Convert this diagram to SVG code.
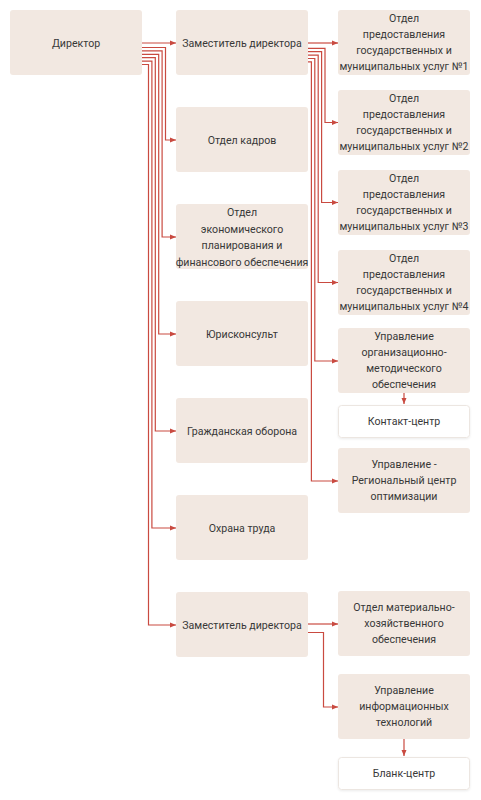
<svg xmlns="http://www.w3.org/2000/svg" width="481" height="800" viewBox="0 0 481 800">
<style>
.box{fill:#f2e8e1;}
.wbox{fill:#ffffff;stroke:#ece6e1;stroke-width:1;}
.t{font-family:Roboto,"Noto Sans","Liberation Sans",sans-serif;font-size:10.6px;fill:#383838;text-anchor:middle;dominant-baseline:central;}
.c{fill:none;stroke:#c94a40;stroke-width:1.2;marker-end:url(#ah);}
</style>
<defs>
<marker id="ah" markerUnits="userSpaceOnUse" markerWidth="7" markerHeight="6" refX="6" refY="3" orient="auto">
<path d="M0,0.5 L6,3 L0,5.5 z" fill="#c94a40"/>
</marker>
<filter id="sh" x="-10%" y="-20%" width="120%" height="150%">
<feDropShadow dx="0" dy="1" stdDeviation="1" flood-color="#000" flood-opacity="0.08"/>
</filter>
</defs>
<rect width="481" height="800" fill="#ffffff"/>

<g id="connectors">
<path class="c" d="M142,43 H176"/>
<path class="c" d="M142,47.5 H165.5 V140 H176"/>
<path class="c" d="M142,50.9 H162.1 V237 H176"/>
<path class="c" d="M142,54.3 H158.7 V334 H176"/>
<path class="c" d="M142,57.7 H155.3 V431 H176"/>
<path class="c" d="M142,61.1 H151.9 V528 H176"/>
<path class="c" d="M142,64.5 H148.5 V625 H176"/>

<path class="c" d="M308,43 H338"/>
<path class="c" d="M308,48.3 H325 V122.5 H338"/>
<path class="c" d="M308,51.7 H321.6 V202.5 H338"/>
<path class="c" d="M308,55.1 H318.2 V282.5 H338"/>
<path class="c" d="M308,58.5 H314.8 V361 H338"/>
<path class="c" d="M308,61.9 H311.4 V481 H338"/>

<path class="c" d="M404,393 V404"/>

<path class="c" d="M308,624 H338"/>
<path class="c" d="M308,632.5 H323.5 V707 H338"/>
<path class="c" d="M404,739 V756"/>
</g>

<g id="director"><rect class="box" x="10" y="10" width="132" height="65" rx="3"/><text class="t" x="76" y="43">Директор</text></g>

<g id="deputy1"><rect class="box" x="176" y="10" width="132" height="65" rx="3"/><text class="t" x="242" y="43">Заместитель директора</text></g>
<g id="hr"><rect class="box" x="176" y="107" width="132" height="65" rx="3"/><text class="t" x="242" y="140">Отдел кадров</text></g>
<g id="econ"><rect class="box" x="176" y="204" width="132" height="65" rx="3"/>
<text class="t" x="242" y="212.5">Отдел</text><text class="t" x="242" y="229">экономического</text><text class="t" x="242" y="245.5">планирования и</text><text class="t" x="242" y="262">финансового обеспечения</text></g>
<g id="legal"><rect class="box" x="176" y="301" width="132" height="65" rx="3"/><text class="t" x="242" y="334">Юрисконсульт</text></g>
<g id="civil"><rect class="box" x="176" y="398" width="132" height="65" rx="3"/><text class="t" x="242" y="431">Гражданская оборона</text></g>
<g id="safety"><rect class="box" x="176" y="495" width="132" height="65" rx="3"/><text class="t" x="242" y="528">Охрана труда</text></g>
<g id="deputy2"><rect class="box" x="176" y="592" width="132" height="65" rx="3"/><text class="t" x="242" y="625">Заместитель директора</text></g>

<g id="dept1"><rect class="box" x="338" y="10" width="132" height="65" rx="3"/>
<text class="t" x="404" y="18.5">Отдел</text><text class="t" x="404" y="34.5">предоставления</text><text class="t" x="404" y="50.5">государственных и</text><text class="t" x="404" y="66.5">муниципальных услуг №1</text></g>
<g id="dept2"><rect class="box" x="338" y="90" width="132" height="65" rx="3"/>
<text class="t" x="404" y="98.5">Отдел</text><text class="t" x="404" y="114.5">предоставления</text><text class="t" x="404" y="130.5">государственных и</text><text class="t" x="404" y="146.5">муниципальных услуг №2</text></g>
<g id="dept3"><rect class="box" x="338" y="170" width="132" height="65" rx="3"/>
<text class="t" x="404" y="178.5">Отдел</text><text class="t" x="404" y="194.5">предоставления</text><text class="t" x="404" y="210.5">государственных и</text><text class="t" x="404" y="226.5">муниципальных услуг №3</text></g>
<g id="dept4"><rect class="box" x="338" y="250" width="132" height="65" rx="3"/>
<text class="t" x="404" y="258.5">Отдел</text><text class="t" x="404" y="274.5">предоставления</text><text class="t" x="404" y="290.5">государственных и</text><text class="t" x="404" y="306.5">муниципальных услуг №4</text></g>
<g id="orgmet"><rect class="box" x="338" y="328" width="132" height="65" rx="3"/>
<text class="t" x="404" y="336.5">Управление</text><text class="t" x="404" y="352.5">организационно-</text><text class="t" x="404" y="368.5">методического</text><text class="t" x="404" y="384.5">обеспечения</text></g>
<g id="contact"><rect class="wbox" x="338.5" y="405.5" width="131" height="32" rx="3" filter="url(#sh)"/><text class="t" x="404" y="421.5">Контакт-центр</text></g>
<g id="regional"><rect class="box" x="338" y="448" width="132" height="65" rx="3"/>
<text class="t" x="404" y="464.5">Управление -</text><text class="t" x="404" y="480.5">Региональный центр</text><text class="t" x="404" y="496.5">оптимизации</text></g>

<g id="material"><rect class="box" x="338" y="591" width="132" height="65" rx="3"/>
<text class="t" x="404" y="607.5">Отдел материально-</text><text class="t" x="404" y="623.5">хозяйственного</text><text class="t" x="404" y="639.5">обеспечения</text></g>
<g id="it"><rect class="box" x="338" y="674" width="132" height="65" rx="3"/>
<text class="t" x="404" y="690.5">Управление</text><text class="t" x="404" y="706.5">информационных</text><text class="t" x="404" y="722.5">технологий</text></g>
<g id="blank"><rect class="wbox" x="338.5" y="757.5" width="131" height="32" rx="3" filter="url(#sh)"/><text class="t" x="404" y="773.5">Бланк-центр</text></g>
</svg>
